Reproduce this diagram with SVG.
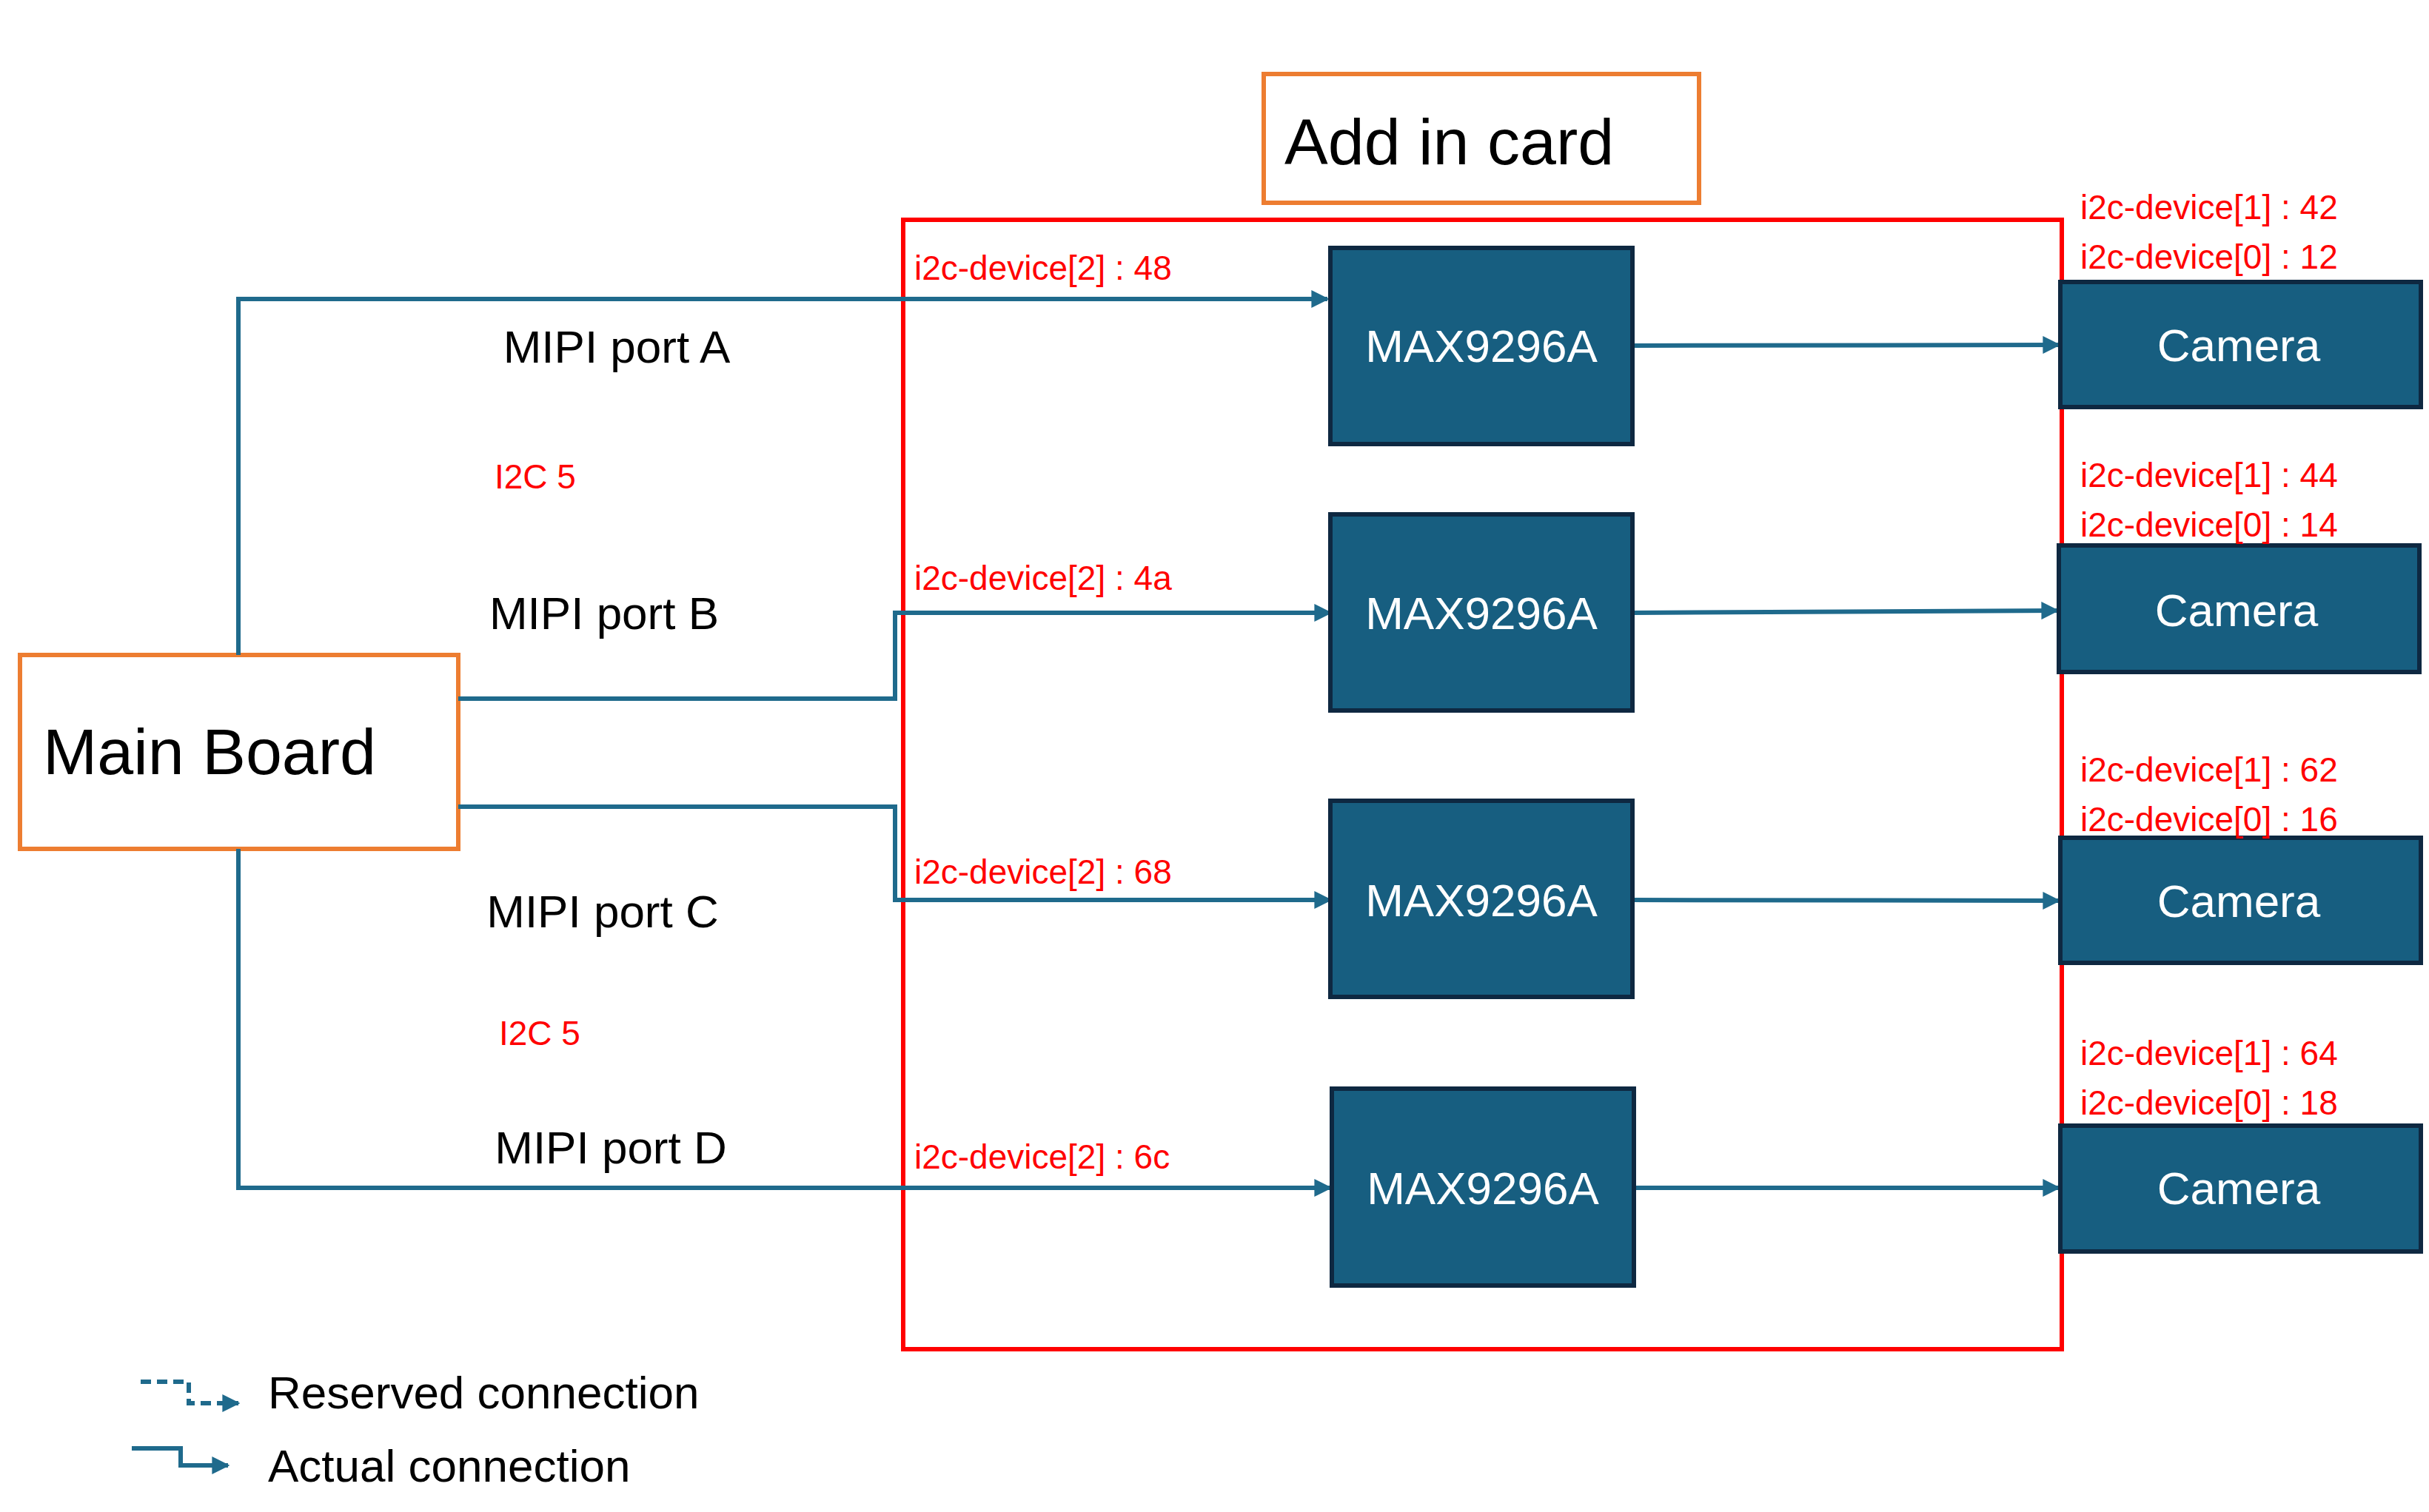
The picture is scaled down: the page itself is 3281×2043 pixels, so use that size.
<svg xmlns="http://www.w3.org/2000/svg" width="3281" height="2043" viewBox="0 0 3281 2043">
<style>
.t{font-family:"Liberation Sans",Arial,sans-serif}
.blk{fill:#000;font-size:62px}
.red{fill:#ff0000;font-size:46px}
.blue{fill:#175e80;stroke:#0e2841;stroke-width:6}
.wt{fill:#fff;font-size:62px;text-anchor:middle;dominant-baseline:central}
.ln{fill:none;stroke:#1f6a8c;stroke-width:6}
</style>
<defs>
<marker id="ah" viewBox="0 0 10 10" refX="9" refY="5" markerWidth="4" markerHeight="4" orient="auto" markerUnits="strokeWidth">
<path d="M0,0 L10,5 L0,10 Z" fill="#1f6a8c"/>
</marker>
</defs>
<rect width="3281" height="2043" fill="#fff"/>
<g id="card"><rect x="1220" y="297" width="1565" height="1526" fill="none" stroke="#ff0000" stroke-width="6"/></g>
<g id="addin"><rect x="1707" y="100" width="588" height="174" fill="#fff" stroke="#ed7d31" stroke-width="6"/>
<text class="t" x="1735" y="222" font-size="88" fill="#000">Add in card</text></g>
<g id="main"><rect x="27" y="885" width="592" height="262" fill="#fff" stroke="#ed7d31" stroke-width="6"/>
<text class="t" x="58" y="1046" font-size="88" fill="#000">Main Board</text></g>
<g id="connectors">
<path class="ln" d="M322,885 V404 H1793" marker-end="url(#ah)"/>
<path class="ln" d="M619,944 H1209 V828 H1797" marker-end="url(#ah)"/>
<path class="ln" d="M619,1090 H1209 V1216 H1797" marker-end="url(#ah)"/>
<path class="ln" d="M322,1147 V1605 H1797" marker-end="url(#ah)"/>
<path class="ln" d="M2205,467 L2781,466" marker-end="url(#ah)"/>
<path class="ln" d="M2205,828 L2779,825" marker-end="url(#ah)"/>
<path class="ln" d="M2205,1216 L2781,1217" marker-end="url(#ah)"/>
<path class="ln" d="M2207,1605 L2781,1605" marker-end="url(#ah)"/>
</g>
<g id="max1"><rect class="blue" x="1797" y="335" width="408" height="265"/><text class="t wt" x="2001" y="467">MAX9296A</text></g>
<g id="max2"><rect class="blue" x="1797" y="695" width="408" height="265"/><text class="t wt" x="2001" y="828">MAX9296A</text></g>
<g id="max3"><rect class="blue" x="1797" y="1082" width="408" height="265"/><text class="t wt" x="2001" y="1216">MAX9296A</text></g>
<g id="max4"><rect class="blue" x="1799" y="1471" width="408" height="266"/><text class="t wt" x="2003" y="1605">MAX9296A</text></g>
<g id="cam1"><rect class="blue" x="2783" y="381" width="487" height="169"/><text class="t wt" x="3024" y="466">Camera</text></g>
<g id="cam2"><rect class="blue" x="2781" y="737" width="487" height="171"/><text class="t wt" x="3021" y="824">Camera</text></g>
<g id="cam3"><rect class="blue" x="2783" y="1132" width="487" height="169"/><text class="t wt" x="3024" y="1217">Camera</text></g>
<g id="cam4"><rect class="blue" x="2783" y="1521" width="487" height="170"/><text class="t wt" x="3024" y="1605">Camera</text></g>
<g id="labels">
<text class="t blk" x="833" y="490" text-anchor="middle">MIPI port A</text>
<text class="t red" x="668" y="660" font-size="62">I2C 5</text>
<text class="t blk" x="816" y="850" text-anchor="middle">MIPI port B</text>
<text class="t blk" x="814" y="1253" text-anchor="middle">MIPI port C</text>
<text class="t red" x="674" y="1412" font-size="62">I2C 5</text>
<text class="t blk" x="825" y="1572" text-anchor="middle">MIPI port D</text>
<text class="t red" x="1235" y="378">i2c-device[2] : 48</text>
<text class="t red" x="1235" y="797">i2c-device[2] : 4a</text>
<text class="t red" x="1235" y="1194">i2c-device[2] : 68</text>
<text class="t red" x="1235" y="1579">i2c-device[2] : 6c</text>
<text class="t red" x="2810" y="296">i2c-device[1] : 42</text>
<text class="t red" x="2810" y="363">i2c-device[0] : 12</text>
<text class="t red" x="2810" y="658">i2c-device[1] : 44</text>
<text class="t red" x="2810" y="725">i2c-device[0] : 14</text>
<text class="t red" x="2810" y="1056">i2c-device[1] : 62</text>
<text class="t red" x="2810" y="1123">i2c-device[0] : 16</text>
<text class="t red" x="2810" y="1439">i2c-device[1] : 64</text>
<text class="t red" x="2810" y="1506">i2c-device[0] : 18</text>
</g>
<g id="legend">
<path class="ln" d="M190,1867 H255 V1896 H322" stroke-dasharray="14,8" marker-end="url(#ah)"/>
<path class="ln" d="M178,1957 H244 V1980 H308" marker-end="url(#ah)"/>
<text class="t blk" x="362" y="1903">Reserved connection</text>
<text class="t blk" x="362" y="2002">Actual connection</text>
</g>
</svg>
